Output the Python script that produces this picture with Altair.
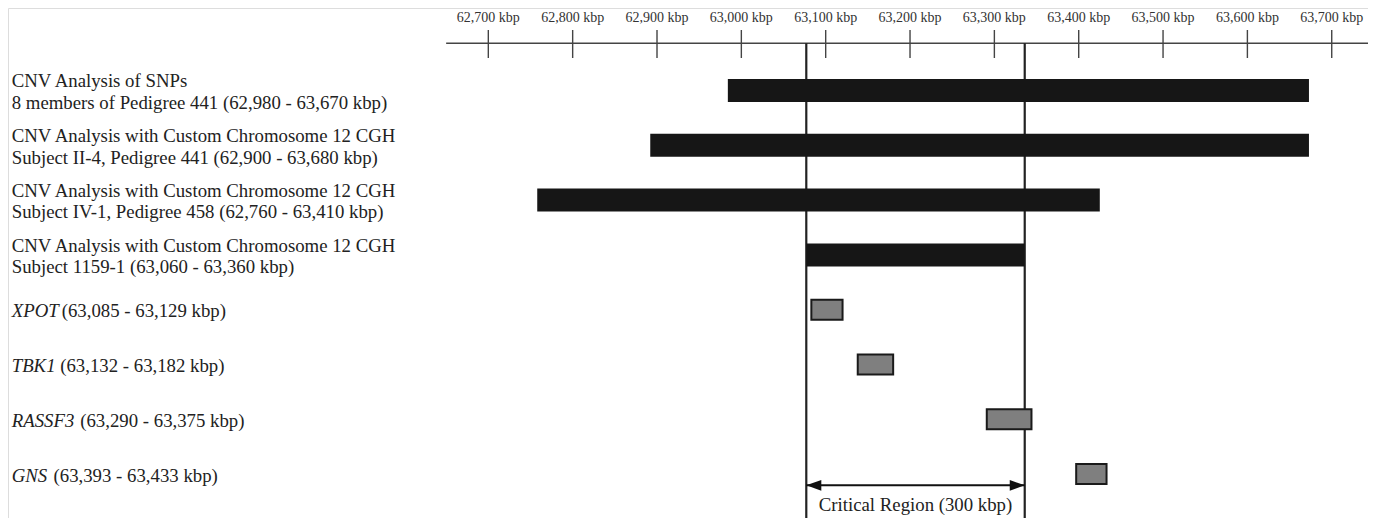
import altair as alt
import pandas as pd

# ---------------- data ----------------
row_labels = [
    "CNV Analysis of SNPs\n8 members of Pedigree 441 (62,980 - 63,670 kbp)",
    "CNV Analysis with Custom Chromosome 12 CGH\nSubject II-4, Pedigree 441 (62,900 - 63,680 kbp)",
    "CNV Analysis with Custom Chromosome 12 CGH\nSubject IV-1, Pedigree 458 (62,760 - 63,410 kbp)",
    "CNV Analysis with Custom Chromosome 12 CGH\nSubject 1159-1 (63,060 - 63,360 kbp)",
]
bar_start = [62984, 62892, 62758, 63077]
bar_end = [63673, 63673, 63425, 63336]

gene_names = ["XPOT", "TBK1", "RASSF3", "GNS"]
gene_ranges = [
    "(63,085 - 63,129 kbp)",
    "(63,132 - 63,182 kbp)",
    "(63,290 - 63,375 kbp)",
    "(63,393 - 63,433 kbp)",
]
gene_start = [63083, 63138, 63291, 63397]
gene_end = [63120, 63180, 63344, 63433]

tick_values = [62700, 62800, 62900, 63000, 63100, 63200, 63300, 63400, 63500, 63600, 63700]
tick_labels = ["62,700 kbp", "62,800 kbp", "62,900 kbp", "63,000 kbp", "63,100 kbp",
               "63,200 kbp", "63,300 kbp", "63,400 kbp", "63,500 kbp", "63,600 kbp",
               "63,700 kbp"]

critical_bounds = [63077, 63336]
critical_label = "Critical Region (300 kbp)"
axis_extent = [62650, 63760]

# ---------------- layout ----------------
W, H = 1360, 510
FONT = "Liberation Serif"
TXT = "#222222"
FS = 18.8
LH = 21.5
# horizontal offset of the plain-text part after each italic gene name
name_gap = {"XPOT": 50.0, "TBK1": 48.5, "RASSF3": 68.5, "GNS": 41.8}

xs = alt.Scale(domain=[62130.5, 63743.0], nice=False, zero=False, padding=0)
ys = alt.Scale(domain=[-1.5055, 7.801], reverse=True, nice=False, zero=False, padding=0)

cnv = pd.DataFrame({"row": list(range(4)), "label": row_labels,
                    "start": bar_start, "end": bar_end})
genes = pd.DataFrame({"row": list(range(4, 8)), "name": gene_names,
                      "rng": gene_ranges, "start": gene_start, "end": gene_end})
ticks = pd.DataFrame({"v": tick_values, "lab": tick_labels})
crit = pd.DataFrame({"v": critical_bounds})
crit_span = pd.DataFrame({"a": [critical_bounds[0]], "b": [critical_bounds[1]],
                          "mid": [(critical_bounds[0] + critical_bounds[1]) / 2],
                          "lab": [critical_label]})
axis_df = pd.DataFrame({"a": [axis_extent[0]], "b": [axis_extent[1]]})

X = lambda f: alt.X(f, type="quantitative", scale=xs, axis=None)
Y = lambda f: alt.Y(f, type="quantitative", scale=ys, axis=None)

axis_line = alt.Chart(axis_df).mark_rule(color="#444444", strokeWidth=1.6).encode(
    x=X("a"), x2="b", y=alt.value(35.3))
tick_marks = alt.Chart(ticks).mark_rule(color="#444444", strokeWidth=1.4).encode(
    x=X("v"), y=alt.value(22), y2=alt.value(50))
tick_text = alt.Chart(ticks).mark_text(font=FONT, fontSize=14, color="#333333",
                                       baseline="middle", align="center").encode(
    x=X("v"), y=alt.value(9.8), text="lab")

vlines = alt.Chart(crit).mark_rule(color="#222222", strokeWidth=2.2).encode(
    x=X("v"), y=alt.value(35.3), y2=alt.value(H))

bars = alt.Chart(cnv).mark_bar(size=23, color="#161616").encode(
    x=X("start"), x2="end", y=Y("row"))
row_text = alt.Chart(cnv).mark_text(font=FONT, fontSize=FS, color=TXT, align="left",
                                    baseline="middle", lineBreak="\n", lineHeight=LH,
                                    dy=1.5 - LH / 2).encode(
    x=alt.value(3.7), y=Y("row"), text="label")

gene_boxes = alt.Chart(genes).mark_bar(size=20, fill="#7f7f7f", stroke="#1a1a1a",
                                       strokeWidth=2).encode(
    x=X("start"), x2="end", y=Y("row"))
gene_name_text = alt.Chart(genes).mark_text(font=FONT, fontSize=FS, fontStyle="italic",
                                            color=TXT, align="left", baseline="middle",
                                            dy=1.5).encode(
    x=alt.value(3.7), y=Y("row"), text="name")
gene_rng_layers = [
    alt.Chart(genes[genes["name"] == g]).mark_text(
        font=FONT, fontSize=FS, color=TXT, align="left", baseline="middle",
        dx=name_gap[g], dy=1.5).encode(x=alt.value(3.7), y=Y("row"), text="rng")
    for g in gene_names
]

ARROW_Y = 477.3
arrow_line = alt.Chart(crit_span).mark_rule(color="#111111", strokeWidth=2).encode(
    x=X("a"), x2="b", y=alt.value(ARROW_Y))
head_l = alt.Chart(crit_span).mark_point(
    shape="M 0 0 L 2 -0.72 L 2 0.72 Z", size=225, filled=True, color="#111111",
    opacity=1).encode(x=X("a"), y=alt.value(ARROW_Y))
head_r = alt.Chart(crit_span).mark_point(
    shape="M 0 0 L -2 -0.72 L -2 0.72 Z", size=225, filled=True, color="#111111",
    opacity=1).encode(x=X("b"), y=alt.value(ARROW_Y))
crit_text = alt.Chart(crit_span).mark_text(font=FONT, fontSize=FS, color=TXT,
                                           align="center", baseline="middle").encode(
    x=X("mid"), y=alt.value(497), text="lab")

chart = alt.layer(
    axis_line, tick_marks, tick_text, vlines, bars, row_text, gene_boxes,
    gene_name_text, *gene_rng_layers, arrow_line, head_l, head_r, crit_text
).properties(
    width=W, height=H, padding=0,
    autosize=alt.AutoSizeParams(type="none"),
).configure_view(strokeWidth=0, stroke="transparent").configure(background="white")

chart.save("out.html", embed_options={"renderer": "svg", "actions": False})
